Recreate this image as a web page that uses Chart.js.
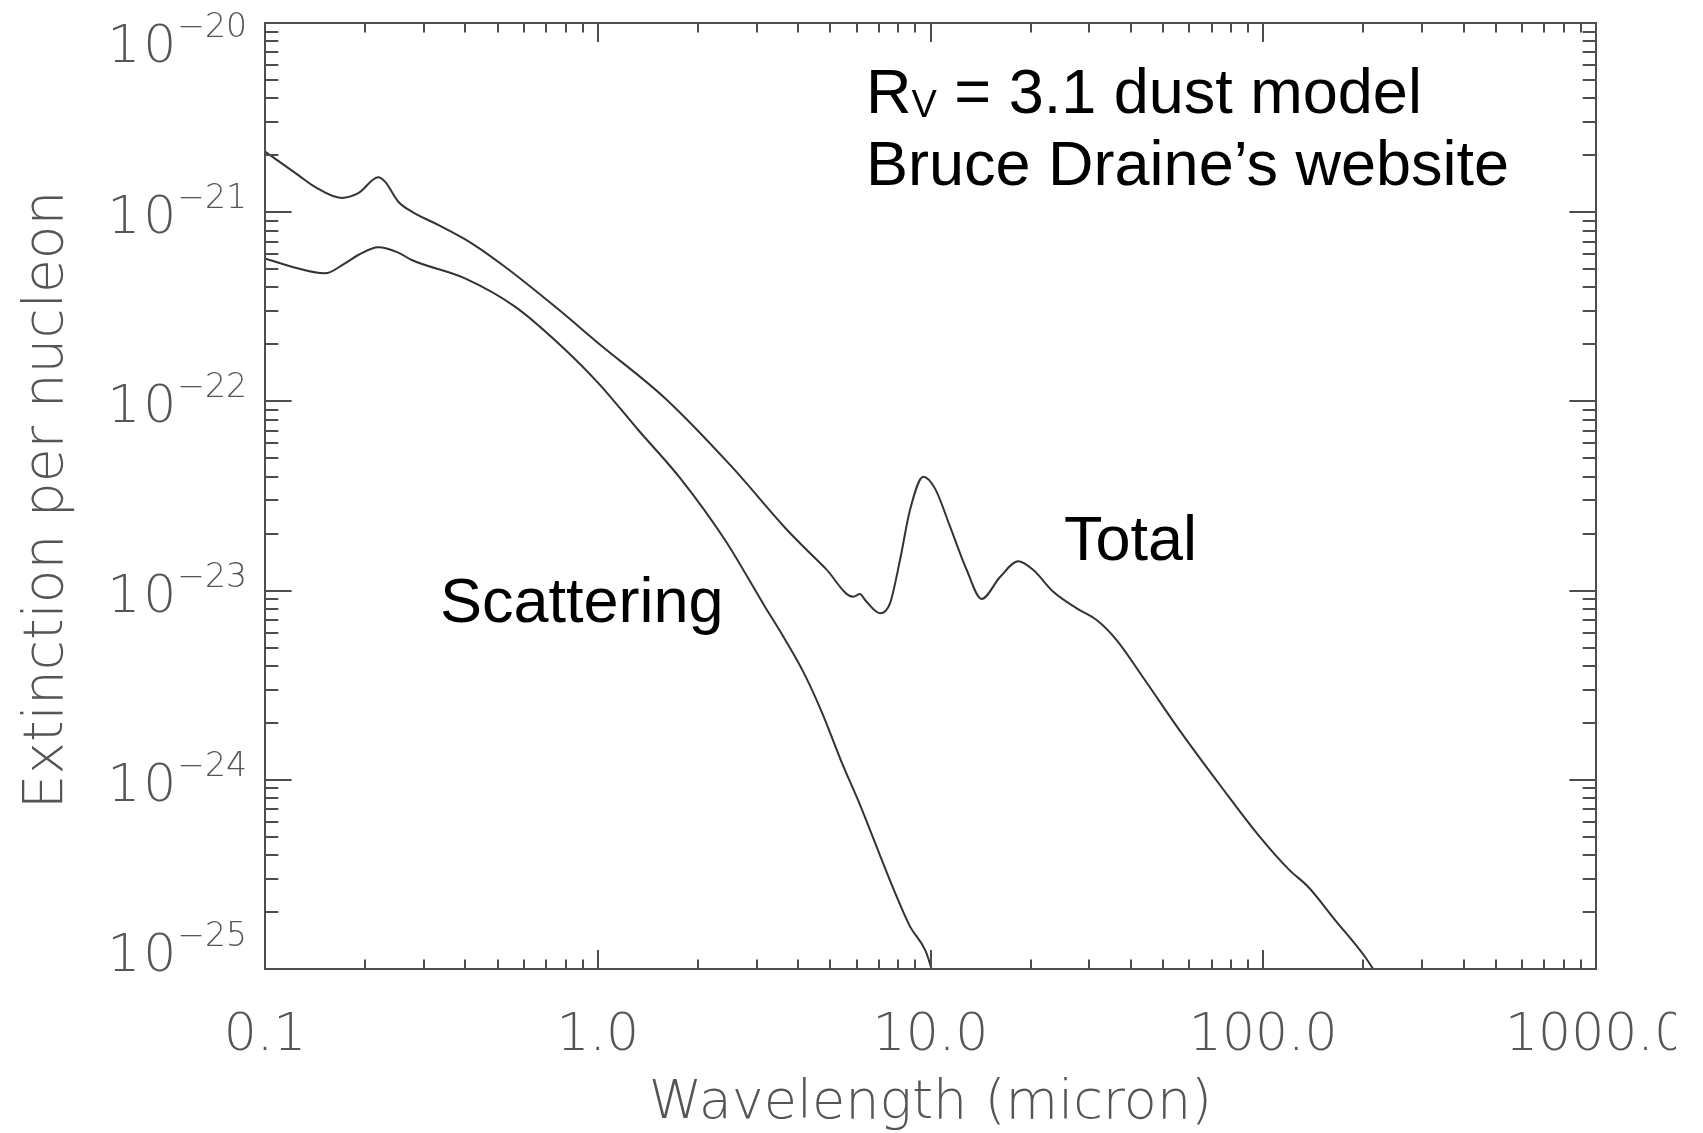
<!DOCTYPE html>
<html>
<head>
<meta charset="utf-8">
<title>Extinction per nucleon — R_V = 3.1 dust model</title>
<script src="https://cdn.jsdelivr.net/npm/chart.js@4.4.1/dist/chart.umd.min.js"></script>
<style>
  html, body { margin: 0; padding: 0; background: #ffffff; }
  canvas { display: block; }
</style>
</head>
<body>
<canvas id="chart" width="1703" height="1133"></canvas>
<script>
// Total extinction cross-section per H nucleon (cm^2) vs wavelength (micron)
const totalWavelength = [0.1, 0.1259, 0.1413, 0.170, 0.1907, 0.219, 0.2294, 0.2516, 0.276, 0.3317,
  0.418, 0.526, 0.744, 1.004, 1.593, 2.527, 3.655, 4.054, 4.833, 5.861, 6.14, 6.357, 7.053, 7.556,
  8.097, 8.677, 9.513, 10.31, 11.45, 12.85, 14.25, 16.18, 18.36, 20.37, 23.39, 27.51, 31.58, 36.30,
  43.71, 56.9, 74.2, 96.7, 119.5, 136.4, 164.2, 202.9, 224.4];
const totalExtinction = [2.09e-21, 1.57e-21, 1.36e-21, 1.19e-21, 1.26e-21, 1.53e-21, 1.45e-21, 1.136e-21,
  1.007e-21, 8.56e-22, 6.85e-22, 5.15e-22, 3.17e-22, 2.03e-22, 1.04e-22, 4.52e-23, 2.15e-23, 1.78e-23,
  1.31e-23, 9.29e-24, 9.60e-24, 8.92e-24, 7.59e-24, 8.57e-24, 1.45e-23, 2.67e-23, 4.00e-23, 3.47e-23,
  2.18e-23, 1.285e-23, 9.04e-24, 1.18e-23, 1.43e-23, 1.285e-23, 9.86e-24, 8.06e-24, 6.99e-24, 5.46e-24,
  3.44e-24, 1.76e-24, 9.36e-25, 5.10e-25, 3.35e-25, 2.72e-25, 1.82e-25, 1.15e-25, 8.75e-26];

// Scattering part of the extinction
const scatWavelength = [0.1, 0.1203, 0.1514, 0.1739, 0.1907, 0.219, 0.2516, 0.276, 0.399, 0.564, 0.761,
  1.004, 1.324, 1.788, 2.413, 3.181, 3.53, 4.14, 4.723, 5.39, 6.157, 7.026, 7.81, 8.684, 9.654, 10.05, 10.24];
const scatExtinction = [5.70e-22, 5.15e-22, 4.75e-22, 5.37e-22, 5.94e-22, 6.52e-22, 6.11e-22, 5.59e-22,
  4.47e-22, 3.17e-22, 2.03e-22, 1.25e-22, 7.06e-23, 3.84e-23, 1.85e-23, 8.22e-24, 6.11e-24, 3.74e-24,
  2.26e-24, 1.257e-24, 7.28e-25, 4.05e-25, 2.55e-25, 1.675e-25, 1.25e-25, 1.01e-25, 8.75e-26];

// Axis ticks and labels
const xTickValues = [0.1, 1, 10, 100, 1000];
const xTickLabels = ['0.1', '1.0', '10.0', '100.0', '1000.0'];
const yTickExponents = [-20, -21, -22, -23, -24, -25];
const xTitle = 'Wavelength (micron)';
const yTitle = 'Extinction per nucleon';

const AXIS_FONT = '"DejaVu Sans", sans-serif';
const AXIS_COLOR = '#555555';
const NOTE_FONT = '"Liberation Sans", Arial, sans-serif';

function toPoints(xs, ys) {
  return xs.map((x, i) => ({ x: x, y: ys[i] }));
}

// Boxed frame with inward major/minor ticks on all four sides, plus labels and notes
const framePlugin = {
  id: 'framePlugin',
  afterDatasetsDraw(chart) {
    const { ctx, chartArea: a, scales: { x, y } } = chart;
    const w = a.right - a.left, h = a.bottom - a.top;
    const yMajLen = 0.02 * w, yMinLen = yMajLen / 2;
    const xMajLen = 0.02 * h, xMinLen = xMajLen / 2;

    ctx.save();
    ctx.strokeStyle = '#4d4d4d';
    ctx.lineWidth = 2;
    ctx.strokeRect(a.left, a.top, w, h);

    ctx.beginPath();
    // x ticks (bottom and top)
    for (let k = -1; k <= 3; k++) {
      for (let m = 1; m <= 9; m++) {
        if (k === 3 && m > 1) break;
        const v = m * Math.pow(10, k);
        const px = Math.round(x.getPixelForValue(v));
        if (px < a.left - 0.5 || px > a.right + 0.5) continue;
        const len = m === 1 ? xMajLen : xMinLen;
        ctx.moveTo(px, a.bottom); ctx.lineTo(px, a.bottom - len);
        ctx.moveTo(px, a.top); ctx.lineTo(px, a.top + len);
      }
    }
    // y ticks (left and right)
    for (let k = -25; k <= -20; k++) {
      for (let m = 1; m <= 9; m++) {
        if (k === -20 && m > 1) break;
        const v = m * Math.pow(10, k);
        const py = Math.round(y.getPixelForValue(v));
        if (py < a.top - 0.5 || py > a.bottom + 0.5) continue;
        const len = m === 1 ? yMajLen : yMinLen;
        ctx.moveTo(a.left, py); ctx.lineTo(a.left + len, py);
        ctx.moveTo(a.right, py); ctx.lineTo(a.right - len, py);
      }
    }
    ctx.stroke();

    // x tick labels (the page is trimmed just before the right canvas edge)
    ctx.fillStyle = AXIS_COLOR;
    ctx.save();
    ctx.beginPath();
    ctx.rect(0, a.bottom + 2, 1676, 120);
    ctx.clip();
    ctx.font = `200 52px ${AXIS_FONT}`;
    ctx.textAlign = 'center';
    ctx.textBaseline = 'alphabetic';
    xTickValues.forEach((v, i) => {
      ctx.fillText(xTickLabels[i], x.getPixelForValue(v), a.bottom + 81);
    });
    ctx.restore();

    // y tick labels: 10 with a raised exponent, kept inside the frame's height
    const labelRight = a.left - 18;
    yTickExponents.forEach((e) => {
      const py = y.getPixelForValue(Math.pow(10, e));
      let base = py + 21;
      base = Math.max(base, a.top + 39);
      base = Math.min(base, a.bottom + 2);
      const expText = '\u2212' + Math.abs(e);
      ctx.textAlign = 'left';
      ctx.letterSpacing = '0px';
      ctx.font = `200 33px ${AXIS_FONT}`;
      const ew = ctx.measureText(expText).width;
      ctx.fillText(expText, labelRight - ew, base - 25);
      ctx.font = `200 52px ${AXIS_FONT}`;
      ctx.letterSpacing = '3px';
      const bw = ctx.measureText('10').width;
      ctx.fillText('10', labelRight - ew + 2 - bw, base);
      ctx.letterSpacing = '0px';
    });

    // axis titles
    ctx.textAlign = 'center';
    ctx.font = `200 54px ${AXIS_FONT}`;
    ctx.fillText(xTitle, (a.left + a.right) / 2, 1118);
    ctx.save();
    ctx.translate(62, (a.top + a.bottom) / 2 + 4);
    ctx.rotate(-Math.PI / 2);
    ctx.font = `200 55px ${AXIS_FONT}`;
    ctx.fillText(yTitle, 0, 0);
    ctx.restore();

    // notes
    ctx.fillStyle = '#000000';
    ctx.textAlign = 'left';
    let nx = 866;
    ctx.font = `63px ${NOTE_FONT}`;
    ctx.fillText('R', nx, 113);
    nx += ctx.measureText('R').width;
    ctx.font = `38px ${NOTE_FONT}`;
    ctx.fillText('V', nx, 117);
    nx += ctx.measureText('V').width;
    ctx.font = `63px ${NOTE_FONT}`;
    ctx.fillText(' = 3.1 dust model', nx, 113);
    ctx.fillText('Bruce Draine\u2019s website', 866, 185);
    ctx.fillText('Total', 1064, 560);
    ctx.fillText('Scattering', 440, 622);

    ctx.restore();
  }
};

new Chart(document.getElementById('chart'), {
  type: 'line',
  data: {
    datasets: [
      {
        label: 'Total',
        data: toPoints(totalWavelength, totalExtinction),
        borderColor: '#333333',
        borderWidth: 2,
        pointRadius: 0,
        cubicInterpolationMode: 'monotone',
        fill: false
      },
      {
        label: 'Scattering',
        data: toPoints(scatWavelength, scatExtinction),
        borderColor: '#333333',
        borderWidth: 2,
        pointRadius: 0,
        cubicInterpolationMode: 'monotone',
        fill: false
      }
    ]
  },
  options: {
    responsive: false,
    animation: false,
    devicePixelRatio: 1,
    layout: { padding: { left: 265, top: 23, right: 107, bottom: 164 } },
    plugins: { legend: { display: false }, tooltip: { enabled: false } },
    scales: {
      x: { type: 'logarithmic', min: 0.1, max: 1000, display: false },
      y: { type: 'logarithmic', min: 1e-25, max: 1e-20, display: false }
    }
  },
  plugins: [framePlugin]
});
</script>
</body>
</html>
